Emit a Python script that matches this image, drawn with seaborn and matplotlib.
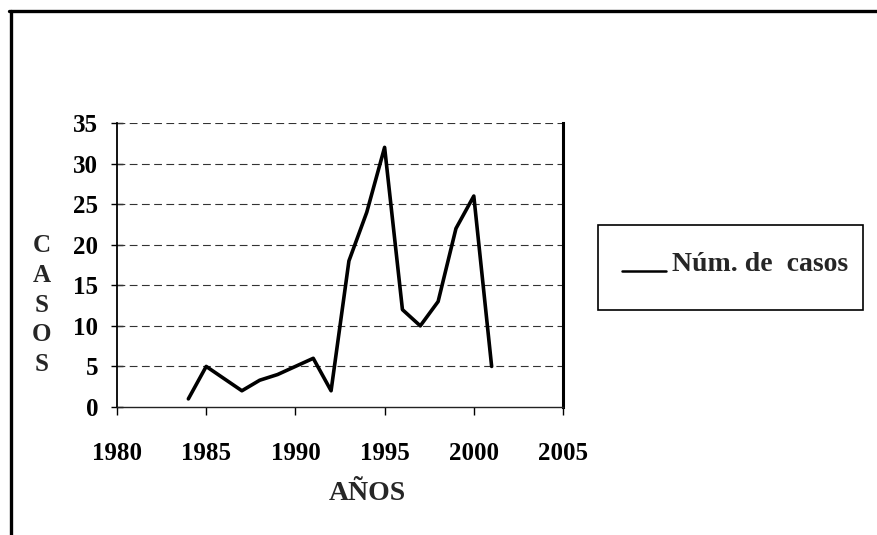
import matplotlib
matplotlib.use("Agg")
import matplotlib.pyplot as plt
import seaborn as sns
import pandas as pd
from matplotlib.patches import Rectangle
from matplotlib.lines import Line2D
from matplotlib.legend_handler import HandlerLine2D

years = [1984, 1985, 1987, 1988, 1989, 1990, 1991, 1992, 1993, 1994,
         1995, 1996, 1997, 1998, 1999, 2000, 2001]
cases = [1, 5, 2, 3.3, 4, 5, 6, 2, 18, 24, 32, 12, 10, 13, 22, 26, 5]
x_ticks = [1980, 1985, 1990, 1995, 2000, 2005]
y_ticks = [0, 5, 10, 15, 20, 25, 30, 35]
series_label = "Núm. de  casos"
x_title = "AÑOS"
y_title = "CASOS"

sns.set_theme(style="white")
plt.rcParams['font.family'] = ['Liberation Serif', 'DejaVu Serif']
plt.rcParams['font.weight'] = 'bold'

df = pd.DataFrame({"year": years, "cases": cases})

W, H = 878, 535
fig = plt.figure(figsize=(W / 100, H / 100), dpi=100)
fig.patch.set_facecolor("white")

ax = fig.add_axes([117 / W, 1 - 407 / H, (563 - 117) / W, (407 - 123) / H])
ax.set_facecolor("white")

for yv in y_ticks[1:]:
    ax.axhline(yv, color="#333333", lw=0.8, ls=(0, (7, 4)), zorder=1)

sns.lineplot(data=df, x="year", y="cases", ax=ax, color="black", lw=2.6,
             label=series_label, legend=False, zorder=3)

ax.set_xlim(1980, 2005)
ax.set_ylim(0, 35)
ax.set_xticks(x_ticks)
ax.set_yticks(y_ticks)
ax.set_xticklabels([str(v) for v in x_ticks], fontsize=18, fontweight='bold')
ax.set_yticklabels([str(v) for v in y_ticks], fontsize=18, fontweight='bold')
ax.set_xlabel("")
ax.set_ylabel("")
ax.tick_params(axis='x', direction='out', length=6, width=1, pad=19, bottom=True, colors='black')
ax.tick_params(axis='y', direction='inout', length=9, width=1, pad=9, left=True, colors='black')

ax.spines['top'].set_visible(False)
ax.spines['left'].set_color('black')
ax.spines['left'].set_linewidth(1.3)
ax.spines['right'].set_color('black')
ax.spines['right'].set_linewidth(2.2)
ax.spines['bottom'].set_color('#222222')
ax.spines['bottom'].set_linewidth(1.0)
ax.spines['bottom'].set_linestyle((0, (7, 1)))

# axis titles
fig.text(367 / W, 1 - 493 / H, x_title, ha='center', va='center',
         fontsize=20, fontweight='bold')
fig.text(42 / W, 1 - 305 / H, "\n".join(y_title), ha='center', va='center',
         fontsize=18, fontweight='bold', linespacing=1.38)


class LowLineHandler(HandlerLine2D):
    def create_artists(self, legend, orig_handle, xdescent, ydescent, width,
                       height, fontsize, trans):
        arts = super().create_artists(legend, orig_handle, xdescent, ydescent,
                                      width, height, fontsize, trans)
        for a in arts:
            if isinstance(a, Line2D):
                a.set_ydata([y - 0.5 * height for y in a.get_ydata()])
        return arts


# legend box
fig.patches.append(Rectangle((598 / W, 1 - 310 / H), (863 - 598) / W, (310 - 225) / H,
                             transform=fig.transFigure, fill=False,
                             edgecolor='black', lw=1.2))
handles = [Line2D([], [], color='black', lw=1.8)]
leg = fig.legend(handles, [series_label], loc='center left',
                 bbox_to_anchor=(608 / W, 1 - 264 / H), frameon=False,
                 prop={'size': 20, 'weight': 'bold', 'family': 'Liberation Serif'},
                 handlelength=1.6, handletextpad=0.2, borderpad=0,
                 handler_map={Line2D: LowLineHandler()})

# figure border (left and top)
fig.add_artist(Line2D([11 / W, 11 / W], [0, 1 - 11 / H], transform=fig.transFigure,
                      color='black', lw=2.4))
fig.add_artist(Line2D([9 / W, 1], [1 - 11 / H, 1 - 11 / H], transform=fig.transFigure,
                      color='black', lw=2.4))

fig.savefig("out.png", dpi=100, facecolor="white")
